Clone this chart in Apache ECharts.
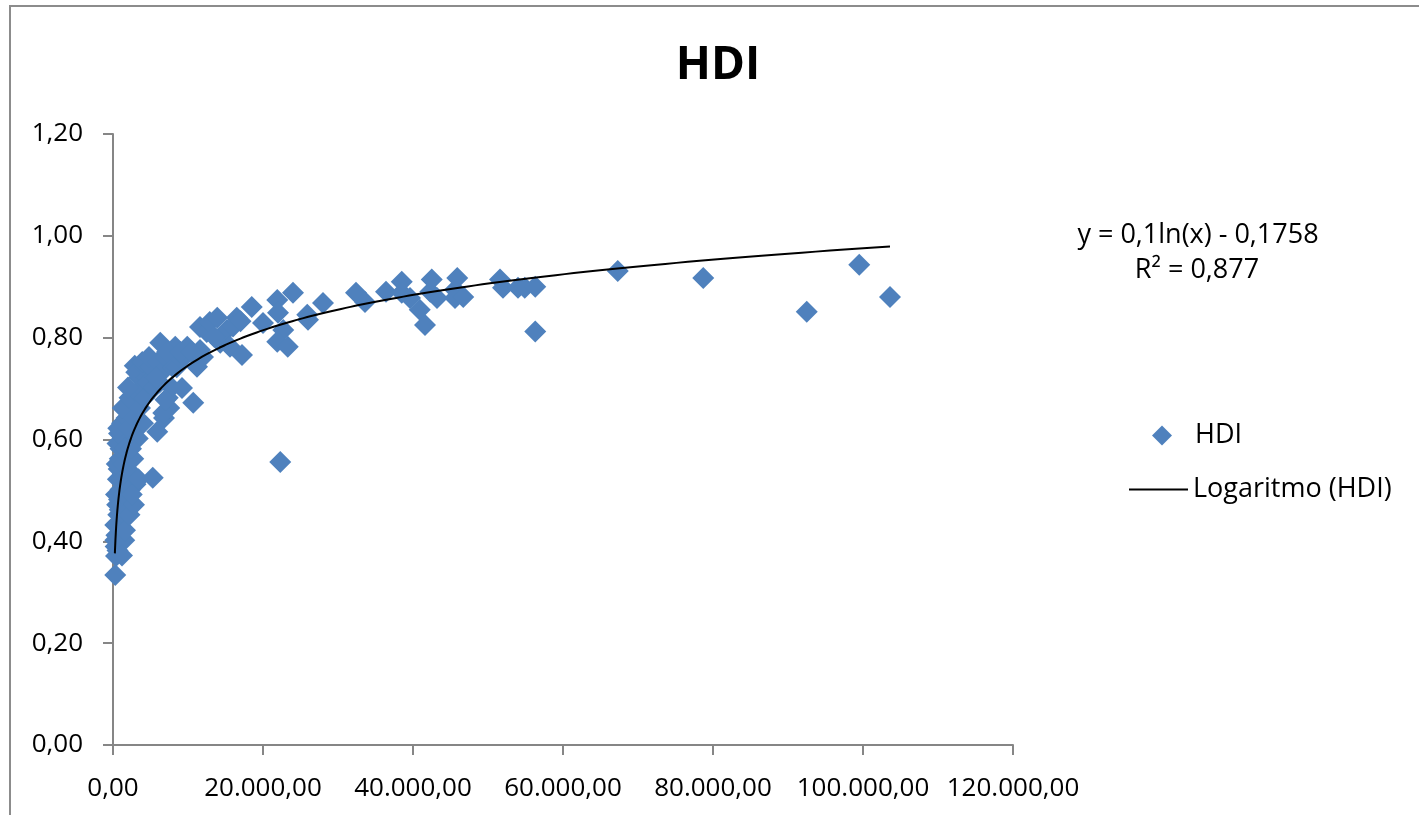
<!DOCTYPE html>
<html>
<head>
<meta charset="utf-8">
<script src="https://cdn.jsdelivr.net/npm/echarts@6/dist/echarts.min.js"></script>
<style>
html,body{margin:0;padding:0;background:#fff;}
#chart{width:1419px;height:815px;}
</style>
</head>
<body>
<div id="chart"></div>
<script>
// GDP per capita (x) and HDI (y)
const hdiPoints = [
  [300,0.334],[400,0.371],[350,0.390],[300,0.402],[450,0.412],[500,0.432],[600,0.382],[700,0.452],
  [550,0.472],[800,0.482],[400,0.492],[900,0.462],[1000,0.502],[1100,0.472],[650,0.522],[750,0.542],
  [500,0.552],[900,0.562],[1200,0.522],[1300,0.492],[1000,0.582],[600,0.592],[1400,0.552],[800,0.612],
  [1500,0.602],[1200,0.632],[700,0.622],[1600,0.582],[1800,0.642],[1900,0.662],[1300,0.662],[1700,0.512],
  [1900,0.462],[300,0.432],[1500,0.452],[1500,0.402],[1200,0.372],[1600,0.422],[2200,0.452],[2800,0.472],
  [3000,0.512],
  [2100,0.622],[2300,0.502],[2500,0.492],[2600,0.532],[2700,0.562],[2800,0.642],[3000,0.672],[2200,0.682],
  [3200,0.692],[3500,0.722],[2900,0.745],[3100,0.732],[3800,0.702],[4000,0.632],[3300,0.602],[3600,0.662],
  [4200,0.682],[4500,0.722],[4300,0.742],[4700,0.712],[2400,0.582],[3400,0.522],[2000,0.702],[3900,0.752],
  [5000,0.742],[4800,0.762],
  [5300,0.525],[5900,0.615],[5500,0.702],[6000,0.752],[6300,0.790],[6500,0.732],[6800,0.642],[7000,0.762],
  [7300,0.682],[7500,0.662],[7800,0.702],[8000,0.742],[8300,0.782],[8500,0.742],[8800,0.762],[9200,0.701],
  [9500,0.762],[9900,0.782],[6200,0.712],[7200,0.772],[5700,0.722],[9000,0.772],[6700,0.652],[7000,0.678],
  [10700,0.672],[11200,0.743],[11600,0.776],[11600,0.821],[12500,0.811],[12900,0.831],[13900,0.839],[14300,0.790],
  [15200,0.815],[15600,0.782],[16500,0.839],[17200,0.766],[18500,0.860],[20000,0.829],[10500,0.772],[12000,0.762],
  [13500,0.802],[16000,0.822],[17000,0.832],
  [21900,0.874],[22000,0.849],[22700,0.815],[21900,0.792],[23300,0.782],[22300,0.556],[24000,0.888],[25900,0.845],
  [26000,0.835],[28000,0.868],
  [32400,0.888],[33600,0.870],[36400,0.890],[38500,0.910],[38500,0.888],[39600,0.878],[40900,0.855],[41600,0.825],
  [42300,0.890],[42500,0.914],[43200,0.878],[45600,0.894],[45600,0.878],[45900,0.917],[46700,0.880],[51600,0.914],
  [52000,0.898],[54000,0.898],[54900,0.898],[56300,0.900],[56300,0.812],[67300,0.931],[78700,0.917],[92500,0.851],
  [99500,0.943],[103600,0.880]
];
// Logarithmic trendline as stated on the chart: y = 0,1 ln(x) - 0,1758
const trendA = 0.1;
const trendB = -0.1758;
const trendRange = [250, 103600];
const xTicks = { min: 0, max: 120000, interval: 20000 };
const yTicks = { min: 0, max: 1.2, interval: 0.2 };
const equationText = 'y = 0,1ln(x) - 0,1758';
const r2Text = 'R² = 0,877';

const trendPoints = [];
{
  const n = 300;
  const l0 = Math.log(trendRange[0]), l1 = Math.log(trendRange[1]);
  for (let i = 0; i <= n; i++) {
    const x = Math.exp(l0 + (l1 - l0) * i / n);
    trendPoints.push([x, trendA * Math.log(x) + trendB]);
  }
}

function fmtThousands(v, dec) {
  const parts = v.toFixed(dec).split('.');
  const int = parts[0].replace(/\B(?=(\d{3})+(?!\d))/g, '.');
  return dec > 0 ? int + ',' + parts[1] : int;
}

const FONT = '"Open Sans", "Liberation Sans", sans-serif';
const axisColor = '#868686';

const chart = echarts.init(document.getElementById('chart'), null, { renderer: 'canvas' });
chart.setOption({
  backgroundColor: '#ffffff',
  animation: false,
  title: {
    text: 'HDI',
    left: 713,
    textAlign: 'center',
    top: 38,
    textStyle: { fontFamily: FONT, fontWeight: 'bold', fontSize: 46, color: '#000' }
  },
  grid: { left: 113, right: 406, top: 134, bottom: 70, containLabel: false },
  legend: [
    {
      orient: 'vertical',
      left: 1147,
      top: 417,
      itemWidth: 20,
      itemHeight: 20,
      icon: 'diamond',
      textStyle: { fontFamily: FONT, fontSize: 27, color: '#000', padding: [0, 0, 0, 18] },
      data: [{ name: 'HDI' }]
    },
    {
      orient: 'vertical',
      left: 1124,
      top: 471,
      itemWidth: 59,
      itemHeight: 20,
      textStyle: { fontFamily: FONT, fontSize: 27, color: '#000' },
      data: [{ name: 'Logaritmo (HDI)', icon: 'path://M0,0L59,0L59,2L0,2Z' }]
    }
  ],
  xAxis: {
    type: 'value',
    min: xTicks.min, max: xTicks.max, interval: xTicks.interval,
    axisLine: { show: true, lineStyle: { color: axisColor, width: 2 } },
    axisTick: { show: true, inside: false, length: 10, lineStyle: { color: axisColor, width: 2 } },
    splitLine: { show: false },
    axisLabel: {
      margin: 31,
      fontFamily: FONT, fontSize: 26, color: '#000',
      formatter: v => fmtThousands(v, 2)
    }
  },
  yAxis: {
    type: 'value',
    min: yTicks.min, max: yTicks.max, interval: yTicks.interval,
    axisLine: { show: true, lineStyle: { color: axisColor, width: 2 } },
    axisTick: { show: true, inside: false, length: 10, lineStyle: { color: axisColor, width: 2 } },
    splitLine: { show: false },
    axisLabel: {
      margin: 30,
      fontFamily: FONT, fontSize: 26, color: '#000',
      formatter: v => v.toFixed(2).replace('.', ',')
    }
  },
  series: [
    {
      name: 'HDI',
      type: 'scatter',
      symbol: 'diamond',
      symbolSize: 22,
      itemStyle: { color: '#4F81BD', opacity: 1 },
      data: hdiPoints,
      z: 2
    },
    {
      name: 'Logaritmo (HDI)',
      type: 'line',
      symbol: 'none',
      showSymbol: false,
      smooth: false,
      lineStyle: { color: '#000000', width: 2 },
      itemStyle: { color: '#000000' },
      data: trendPoints,
      z: 3
    }
  ],
  graphic: [
    {
      type: 'rect',
      shape: { x: 10, y: 6, width: 1500, height: 1000 },
      style: { fill: 'none', stroke: '#8c8c8c', lineWidth: 2 },
      silent: true
    },
    {
      type: 'text',
      x: 1198, y: 235,
      style: { text: equationText, fontFamily: FONT, fontSize: 27, fill: '#000', align: 'center', verticalAlign: 'middle' }
    },
    {
      type: 'text',
      x: 1197, y: 270,
      style: { text: r2Text, fontFamily: FONT, fontSize: 27, fill: '#000', align: 'center', verticalAlign: 'middle' }
    }
  ]
});
</script>
</body>
</html>
